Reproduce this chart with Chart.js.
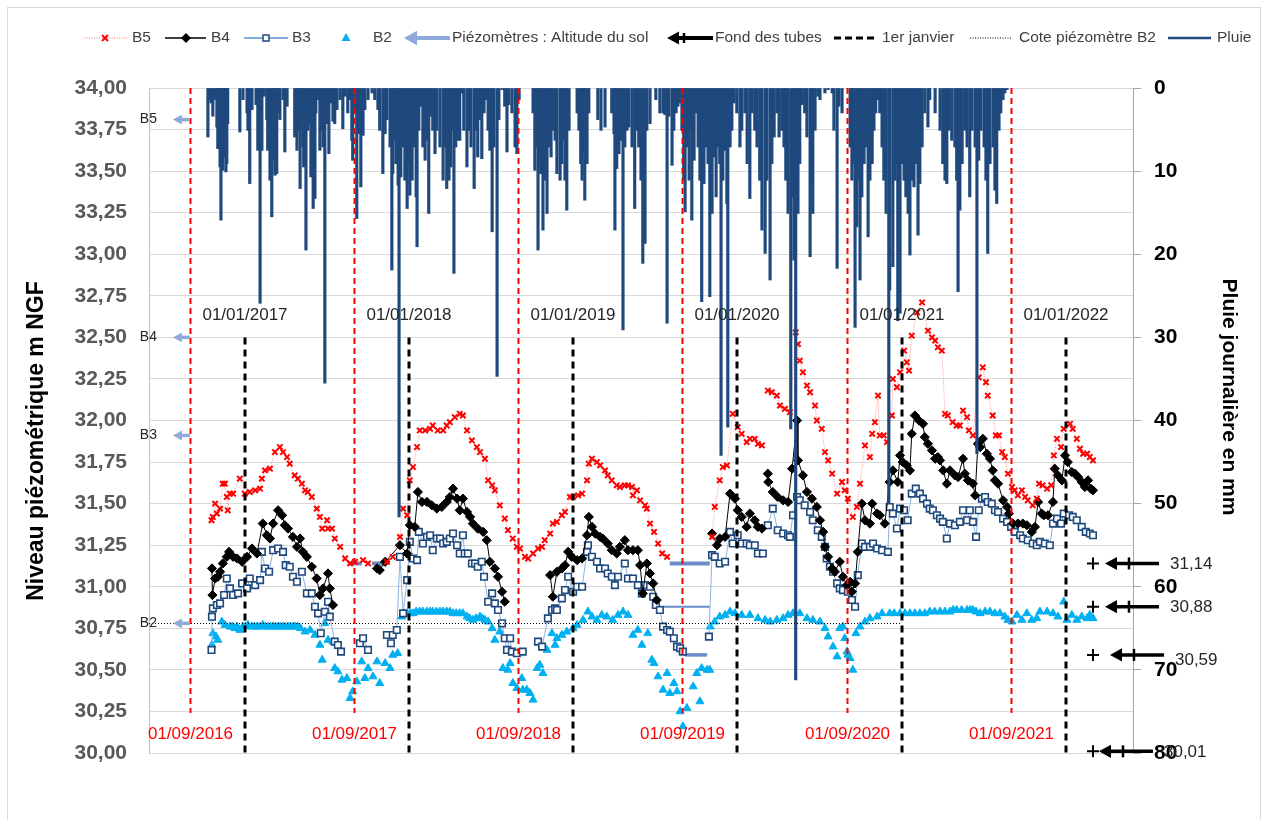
<!DOCTYPE html>
<html>
<head>
<meta charset="utf-8">
<script src="https://cdn.jsdelivr.net/npm/chart.js@4/dist/chart.umd.min.js"></script>
<style>
  html, body { margin: 0; padding: 0; background: #ffffff; }
  canvas { display: block; }
</style>
</head>
<body>
<canvas id="graphe" width="1264" height="820" style="width:1264px;height:820px"></canvas>
<script>
// Axe x : jours depuis le 01/09/2016
const rentrees = [0, 365, 730, 1095, 1461, 1826];
const rentreesTextes = ['01/09/2016', '01/09/2017', '01/09/2018', '01/09/2019', '01/09/2020', '01/09/2021'];
const janviers = [122, 487, 852, 1217, 1583, 1948];
const janviersTextes = ['01/01/2017', '01/01/2018', '01/01/2019', '01/01/2020', '01/01/2021', '01/01/2022'];

const b5Jours = [48, 51, 56, 60, 67, 73, 78, 82, 84, 89, 96, 111, 122, 133, 145, 156, 160, 167, 178, 189, 200, 207, 216, 222, 233, 240, 249, 256, 262, 271, 282, 289, 294, 305, 307, 316, 322, 334, 345, 356, 367, 385, 396, 438, 451, 467, 474, 483, 489, 496, 505, 511, 523, 534, 540, 551, 563, 571, 578, 589, 600, 607, 616, 627, 638, 645, 656, 663, 672, 678, 689, 700, 707, 718, 727, 734, 745, 752, 763, 774, 783, 789, 801, 807, 816, 827, 834, 845, 852, 863, 872, 883, 887, 894, 905, 912, 923, 929, 938, 949, 956, 967, 974, 983, 985, 994, 1001, 1012, 1016, 1023, 1032, 1041, 1050, 1061, 1100, 1161, 1167, 1178, 1185, 1194, 1207, 1218, 1227, 1238, 1245, 1256, 1263, 1272, 1278, 1285, 1294, 1305, 1312, 1323, 1334, 1347, 1352, 1356, 1363, 1372, 1379, 1390, 1394, 1405, 1412, 1419, 1428, 1439, 1450, 1456, 1463, 1474, 1483, 1490, 1501, 1512, 1517, 1523, 1530, 1534, 1543, 1550, 1561, 1563, 1572, 1579, 1588, 1594, 1599, 1605, 1617, 1628, 1641, 1650, 1657, 1663, 1672, 1679, 1685, 1696, 1705, 1712, 1719, 1728, 1732, 1741, 1754, 1763, 1770, 1774, 1785, 1792, 1799, 1806, 1812, 1819, 1828, 1834, 1841, 1850, 1857, 1863, 1874, 1883, 1888, 1896, 1906, 1915, 1921, 1928, 1937, 1943, 1957, 1963, 1972, 1979, 1986, 1995, 2001, 2008];
const b5Niveaux = [31.40, 31.42, 31.50, 31.44, 31.47, 31.62, 31.62, 31.54, 31.46, 31.56, 31.56, 31.65, 31.56, 31.57, 31.58, 31.59, 31.65, 31.70, 31.71, 31.81, 31.84, 31.81, 31.78, 31.74, 31.67, 31.65, 31.62, 31.58, 31.57, 31.54, 31.47, 31.42, 31.35, 31.40, 31.35, 31.35, 31.29, 31.24, 31.17, 31.14, 31.15, 31.16, 31.14, 31.15, 31.18, 31.30, 31.47, 31.43, 31.64, 31.72, 31.84, 31.94, 31.94, 31.95, 31.97, 31.94, 31.94, 31.97, 31.99, 32.02, 32.04, 32.03, 31.94, 31.88, 31.84, 31.81, 31.77, 31.64, 31.61, 31.58, 31.49, 31.41, 31.34, 31.29, 31.24, 31.23, 31.18, 31.17, 31.20, 31.23, 31.24, 31.28, 31.32, 31.38, 31.39, 31.43, 31.45, 31.54, 31.54, 31.55, 31.56, 31.64, 31.74, 31.77, 31.75, 31.73, 31.70, 31.67, 31.64, 31.61, 31.60, 31.61, 31.61, 31.60, 31.55, 31.58, 31.52, 31.49, 31.47, 31.38, 31.33, 31.26, 31.20, 31.18, null, 31.30, 31.48, 31.64, 31.72, 31.73, 32.04, 31.96, 31.92, 31.87, 31.89, 31.89, 31.86, 31.85, null, 32.18, 32.17, 32.15, 32.09, 32.07, 32.05, 32.53, 32.46, 32.36, 32.29, 32.21, 32.17, 32.09, 32.00, 31.95, 31.81, 31.76, 31.68, 31.56, 31.63, 31.58, 31.53, 31.42, 31.48, 31.62, 31.85, 31.78, 31.92, 31.99, 32.15, 31.91, 31.91, 31.87, 32.03, 32.25, 32.20, 32.29, 32.42, 32.35, 32.30, 32.51, 32.65, 32.71, 32.54, 32.50, 32.48, 32.44, 32.42, 32.04, 32.03, 31.99, 31.97, 31.97, 32.06, 32.02, 31.94, 31.91, 32.26, 32.32, 32.23, 32.15, 32.03, 31.91, 31.91, 31.81, 31.78, 31.68, 31.60, 31.58, 31.55, 31.58, 31.54, 31.52, 31.49, 31.53, 31.62, 31.61, 31.59, 31.61, 31.79, 31.89, 31.84, 31.95, 31.98, 31.95, 31.89, 31.83, 31.80, 31.80, 31.78, 31.76];

const b4Jours = [49, 50, 56, 62, 67, 73, 82, 87, 96, 105, 116, 127, 138, 149, 162, 171, 178, 185, 196, 205, 211, 218, 229, 238, 245, 251, 260, 271, 282, 289, 296, 307, 311, 318, 360, 416, 422, 434, 467, 483, 489, 500, 507, 516, 527, 538, 549, 560, 571, 578, 585, 594, 600, 607, 616, 623, 629, 640, 652, 660, 667, 678, 685, 694, 700, 750, 801, 807, 816, 827, 834, 841, 849, 861, 872, 883, 887, 894, 901, 912, 918, 929, 938, 949, 956, 967, 974, 985, 996, 1001, 1007, 1016, 1023, 1030, 1038, 1100, 1161, 1172, 1178, 1190, 1201, 1212, 1218, 1227, 1238, 1245, 1256, 1263, 1272, 1278, 1285, 1286, 1296, 1307, 1319, 1330, 1339, 1350, 1352, 1363, 1372, 1383, 1394, 1401, 1408, 1412, 1419, 1428, 1434, 1445, 1452, 1461, 1468, 1472, 1479, 1485, 1494, 1501, 1512, 1517, 1528, 1534, 1545, 1556, 1563, 1574, 1579, 1585, 1594, 1601, 1605, 1612, 1621, 1630, 1634, 1641, 1650, 1657, 1663, 1668, 1675, 1683, 1690, 1701, 1708, 1719, 1723, 1730, 1741, 1746, 1752, 1757, 1763, 1772, 1779, 1785, 1790, 1797, 1808, 1817, 1821, 1830, 1841, 1852, 1861, 1872, 1879, 1886, 1894, 1899, 1908, 1919, 1923, 1930, 1939, 1946, 1952, 1961, 1968, 1975, 1983, 1990, 1997, 2003, 2008];
const b4Niveaux = [31.11, 30.95, 31.05, 31.06, 31.09, 31.14, 31.18, 31.21, 31.18, 31.17, 31.15, 31.18, 31.23, 31.20, 31.38, 31.31, 31.29, 31.38, 31.46, 31.43, 31.37, 31.35, 31.30, 31.24, 31.29, 31.21, 31.18, 31.12, 31.05, 30.95, 30.99, 31.08, 30.99, 30.89, null, 31.11, 31.10, 31.15, 31.25, 31.20, 31.37, 31.36, 31.57, 31.51, 31.51, 31.49, 31.47, 31.48, 31.51, 31.54, 31.59, 31.53, 31.46, 31.53, 31.45, 31.42, 31.38, 31.35, 31.33, 31.28, 31.15, 31.11, 31.06, 30.97, 30.91, null, 31.07, 30.94, 31.09, 31.11, 31.13, 31.21, 31.18, 31.16, 31.17, 31.31, 31.42, 31.36, 31.32, 31.30, 31.29, 31.26, 31.22, 31.20, 31.24, 31.28, 31.22, 31.22, 31.22, 31.13, 30.96, 31.14, 31.08, 31.02, 30.92, null, 31.32, 31.25, 31.29, 31.30, 31.56, 31.53, 31.46, 31.42, 31.36, 31.44, 31.40, 31.36, 31.35, null, 31.68, 31.63, 31.57, 31.54, 31.52, 31.51, 31.71, 32.00, 31.76, 31.67, 31.57, 31.53, 31.48, 31.40, 31.33, 31.24, 31.18, 31.11, 31.09, 31.15, 31.06, 31.01, 31.03, 30.97, 31.02, 31.21, 31.50, 31.40, 31.38, 31.50, 31.44, 31.43, 31.38, 31.63, 31.70, 31.63, 31.79, 31.75, 31.73, 31.70, 31.92, 32.03, 32.00, 31.98, 31.90, 31.86, 31.82, 31.77, 31.78, 31.76, 31.70, 31.62, 31.70, 31.67, 31.66, 31.77, 31.68, 31.64, 31.62, 31.55, 31.86, 31.84, 31.89, 31.80, 31.77, 31.70, 31.64, 31.62, 31.52, 31.48, 31.44, 31.38, 31.38, 31.38, 31.37, 31.33, 31.36, 31.51, 31.44, 31.43, 31.43, 31.51, 31.71, 31.67, 31.64, 31.79, 31.75, 31.69, 31.68, 31.66, 31.63, 31.60, 31.64, 31.59, 31.58];

const b3Jours = [48, 49, 51, 60, 67, 76, 82, 89, 96, 107, 116, 127, 133, 145, 156, 160, 167, 176, 185, 196, 207, 213, 222, 229, 238, 249, 260, 271, 278, 285, 291, 300, 307, 311, 322, 329, 336, 355, 378, 385, 396, 420, 438, 447, 451, 460, 467, 474, 483, 489, 496, 505, 509, 518, 527, 534, 540, 549, 556, 563, 571, 578, 585, 594, 600, 607, 611, 618, 627, 634, 640, 649, 654, 663, 672, 678, 685, 694, 700, 705, 712, 716, 727, 740, 757, 774, 783, 796, 805, 812, 816, 827, 834, 841, 852, 861, 872, 883, 885, 894, 905, 912, 923, 929, 938, 945, 952, 967, 974, 985, 996, 1005, 1012, 1023, 1030, 1036, 1045, 1052, 1061, 1067, 1076, 1083, 1090, 1096, 1125, 1154, 1161, 1167, 1178, 1190, 1201, 1207, 1218, 1227, 1238, 1245, 1256, 1263, 1274, 1280, 1285, 1296, 1307, 1319, 1330, 1334, 1341, 1350, 1356, 1367, 1379, 1385, 1396, 1405, 1412, 1416, 1423, 1430, 1439, 1445, 1452, 1463, 1472, 1479, 1485, 1494, 1501, 1512, 1519, 1528, 1539, 1552, 1556, 1563, 1572, 1579, 1588, 1596, 1605, 1614, 1623, 1630, 1639, 1645, 1652, 1661, 1668, 1674, 1683, 1690, 1701, 1712, 1719, 1728, 1734, 1741, 1748, 1754, 1761, 1768, 1774, 1783, 1790, 1797, 1808, 1817, 1826, 1834, 1846, 1852, 1863, 1874, 1883, 1890, 1901, 1912, 1919, 1928, 1937, 1943, 1955, 1963, 1972, 1983, 1992, 2001, 2008];
const b3Niveaux = [30.62, 30.82, 30.87, 30.89, 30.90, 30.95, 31.05, 30.99, 30.95, 30.96, 31.02, 30.99, 31.05, 31.01, 31.04, 31.21, 31.11, 31.09, 31.22, 31.23, 31.21, 31.13, 31.12, 31.06, 31.03, 31.09, 30.96, 30.96, 30.88, 30.84, 30.72, 30.85, 30.91, 30.82, 30.67, 30.65, 30.61, null, 30.66, 30.69, 30.62, null, 30.71, 30.66, 30.71, 30.74, 31.18, 30.84, 31.04, 31.27, 31.17, 31.16, 31.33, 31.26, 31.30, 31.31, 31.22, 31.29, 31.29, 31.26, 31.27, 31.29, 31.32, 31.25, 31.20, 31.31, 31.20, 31.20, 31.14, 31.14, 31.12, 31.15, 31.06, 30.91, 30.96, 30.90, 30.86, 30.78, 30.69, 30.62, 30.69, 30.61, 30.60, 30.61, null, 30.67, 30.64, 30.81, 30.86, 30.87, 30.86, 30.93, 30.98, 31.06, 30.97, 31.00, 31.00, 31.21, 31.25, 31.18, 31.15, 31.11, 31.11, 31.08, 31.06, 31.01, 31.06, 31.14, 31.05, 31.05, 31.01, 30.96, 31.01, 31.00, 30.94, 30.89, 30.86, 30.76, 30.74, 30.73, 30.69, 30.64, 30.63, 30.61, null, 30.70, 31.19, 31.18, 31.14, 31.15, 31.33, 31.26, 31.31, 31.26, 31.26, 31.25, 31.25, 31.20, 31.20, null, 31.37, 31.47, 31.34, 31.32, 31.31, 31.30, 31.43, 31.54, 31.52, 31.49, 31.45, 31.40, 31.34, 31.30, 31.24, 31.17, 31.12, 31.09, 31.02, 30.99, 30.98, 30.97, 30.92, 30.88, 31.07, 31.26, 31.24, 31.24, 31.26, 31.23, 31.22, 31.21, 31.48, 31.44, 31.35, 31.47, 31.46, 31.40, 31.56, 31.59, 31.56, 31.53, 31.50, 31.47, 31.46, 31.43, 31.41, 31.39, 31.29, 31.38, 31.37, 31.39, 31.46, 31.40, 31.46, 31.39, 31.30, 31.46, 31.53, 31.54, 31.51, 31.50, 31.46, 31.45, 31.41, 31.39, 31.36, 31.33, 31.31, 31.29, 31.28, 31.26, 31.25, 31.27, 31.26, 31.25, 31.38, 31.41, 31.38, 31.44, 31.43, 31.42, 31.40, 31.36, 31.33, 31.32, 31.31];

const b2Jours = [49, 51, 58, 62, 71, 78, 89, 94, 100, 105, 111, 118, 123, 129, 138, 143, 149, 155, 162, 167, 173, 179, 185, 190, 196, 201, 207, 212, 218, 223, 229, 234, 240, 246, 256, 267, 278, 289, 294, 300, 307, 318, 322, 329, 338, 349, 356, 362, 371, 382, 389, 396, 407, 416, 422, 434, 445, 451, 462, 471, 476, 483, 490, 496, 503, 511, 518, 527, 534, 540, 548, 556, 563, 571, 578, 585, 592, 600, 607, 616, 622, 629, 636, 645, 650, 656, 663, 672, 678, 689, 696, 707, 712, 718, 727, 738, 740, 749, 756, 763, 772, 778, 785, 794, 805, 812, 816, 827, 838, 852, 861, 874, 885, 894, 905, 916, 927, 940, 952, 963, 974, 985, 996, 1005, 1018, 1027, 1032, 1041, 1052, 1061, 1067, 1076, 1083, 1090, 1096, 1105, 1119, 1127, 1134, 1138, 1150, 1156, 1157, 1167, 1178, 1190, 1201, 1212, 1227, 1245, 1263, 1279, 1290, 1305, 1319, 1330, 1341, 1356, 1372, 1385, 1401, 1412, 1419, 1430, 1439, 1445, 1452, 1456, 1461, 1463, 1468, 1474, 1481, 1490, 1501, 1512, 1528, 1539, 1556, 1566, 1579, 1590, 1601, 1612, 1623, 1634, 1645, 1656, 1668, 1679, 1690, 1697, 1705, 1716, 1728, 1735, 1741, 1748, 1757, 1768, 1779, 1790, 1801, 1812, 1819, 1828, 1839, 1850, 1861, 1872, 1883, 1890, 1906, 1919, 1930, 1943, 1950, 1961, 1972, 1983, 1995, 2001, 2008];
const b2Niveaux = [30.65, 30.72, 30.70, 30.68, 30.79, 30.77, 30.76, 30.76, 30.75, 30.76, 30.74, 30.76, 30.76, 30.77, 30.76, 30.76, 30.76, 30.76, 30.77, 30.76, 30.76, 30.76, 30.76, 30.76, 30.76, 30.76, 30.76, 30.76, 30.76, 30.76, 30.76, 30.76, 30.76, 30.75, 30.73, 30.74, 30.71, 30.65, 30.56, 30.78, 30.68, 30.67, 30.51, 30.49, 30.44, 30.45, 30.33, 30.37, 30.43, 30.55, 30.45, 30.51, 30.46, 30.55, 30.42, 30.54, 30.51, 30.59, 30.60, 30.82, 30.84, 30.84, 30.84, 30.84, 30.85, 30.85, 30.85, 30.85, 30.85, 30.85, 30.85, 30.85, 30.85, 30.85, 30.85, 30.84, 30.84, 30.84, 30.84, 30.82, 30.81, 30.80, 30.81, 30.82, 30.81, 30.80, 30.79, 30.75, 30.68, 30.73, 30.51, 30.50, 30.54, 30.42, 30.39, 30.45, 30.38, 30.38, 30.36, 30.32, 30.51, 30.53, 30.48, 30.62, 30.72, 30.65, 30.69, 30.71, 30.73, 30.75, 30.77, 30.80, 30.85, 30.82, 30.80, 30.83, 30.82, 30.80, 30.83, 30.85, 30.83, 30.71, 30.74, 30.65, 30.72, 30.56, 30.54, 30.46, 30.38, 30.48, 30.36, 30.42, 30.37, 30.25, 30.16, 30.27, 30.40, 30.48, 30.31, 30.51, 30.50, 30.50, 30.76, 30.79, 30.82, 30.83, 30.85, 30.84, 30.83, 30.83, 30.81, 30.80, 30.79, 30.80, 30.81, 30.83, 30.84, 30.84, 30.81, 30.80, 30.79, 30.75, 30.70, 30.64, 30.58, 30.75, 30.76, 30.69, 30.61, 30.59, 30.57, 30.50, 30.72, 30.76, 30.79, 30.81, 30.82, 30.84, 30.84, 30.84, 30.84, 30.84, 30.84, 30.84, 30.84, 30.84, 30.85, 30.85, 30.85, 30.85, 30.85, 30.86, 30.86, 30.86, 30.86, 30.86, 30.86, 30.85, 30.84, 30.85, 30.85, 30.84, 30.84, 30.82, 30.80, 30.79, 30.83, 30.80, 30.84, 30.80, 30.81, 30.85, 30.85, 30.84, 30.82, 30.91, 30.80, 30.83, 30.80, 30.82, 30.81, 30.83, 30.81];

// Périodes où le niveau est au fond du tube (piézomètre sec)
const secB5Jours = [351, 382, null, 405, 433, null, 1067, 1156];
const secB5Niveaux = [31.14, 31.14, null, 31.14, 31.14, null, 31.14, 31.14];
const secB4Jours = [1041, 1156];
const secB4Niveaux = [30.88, 30.88];
const secB3Jours = [1101, 1150];
const secB3Niveaux = [30.59, 30.59];

// Altitude du sol et fond des tubes
const piezoNoms = ['B5', 'B4', 'B3', 'B2'];
const piezoSol = [33.81, 32.50, 31.91, 30.78];
const fondTubes = [31.14, 30.88, 30.59, 30.01];
const fondJour = 2008;
const coteB2 = 30.78;

// Pluie journalière (mm)
const pluieJours = [40, 42, 47, 51, 56, 60, 62, 67, 69, 71, 73, 76, 78, 80, 82, 84, 111, 118, 127, 129, 133, 138, 147, 151, 156, 158, 160, 165, 171, 173, 178, 182, 185, 189, 191, 193, 198, 200, 207, 211, 216, 233, 238, 240, 245, 249, 251, 253, 258, 262, 267, 269, 274, 278, 280, 285, 289, 294, 296, 300, 305, 309, 314, 318, 322, 327, 334, 340, 345, 351, 356, 360, 362, 367, 371, 376, 380, 385, 389, 396, 405, 411, 418, 422, 429, 434, 438, 445, 449, 451, 456, 458, 463, 465, 469, 474, 478, 483, 487, 489, 494, 498, 503, 505, 509, 514, 518, 523, 527, 531, 536, 540, 545, 549, 556, 563, 567, 571, 576, 580, 585, 587, 591, 596, 600, 605, 609, 616, 620, 625, 632, 636, 640, 645, 649, 654, 658, 663, 667, 672, 676, 683, 687, 694, 700, 705, 709, 716, 723, 727, 732, 763, 767, 772, 774, 778, 780, 785, 789, 794, 798, 803, 807, 812, 816, 823, 827, 829, 834, 838, 843, 861, 865, 869, 872, 876, 878, 883, 887, 907, 914, 923, 938, 943, 945, 949, 954, 958, 963, 967, 972, 976, 983, 989, 994, 998, 1003, 1007, 1012, 1016, 1023, 1036, 1045, 1052, 1056, 1061, 1065, 1072, 1076, 1081, 1085, 1090, 1094, 1098, 1101, 1105, 1110, 1114, 1116, 1121, 1125, 1130, 1134, 1138, 1143, 1147, 1152, 1156, 1161, 1165, 1170, 1174, 1178, 1181, 1185, 1190, 1194, 1196, 1201, 1205, 1210, 1216, 1223, 1227, 1234, 1239, 1245, 1250, 1256, 1261, 1267, 1272, 1279, 1283, 1290, 1294, 1299, 1305, 1310, 1316, 1321, 1325, 1330, 1336, 1341, 1343, 1347, 1352, 1356, 1361, 1367, 1372, 1379, 1383, 1385, 1390, 1396, 1401, 1412, 1419, 1428, 1432, 1439, 1443, 1450, 1468, 1472, 1474, 1479, 1483, 1488, 1490, 1494, 1499, 1503, 1508, 1512, 1517, 1521, 1525, 1530, 1534, 1539, 1543, 1548, 1554, 1556, 1563, 1568, 1572, 1574, 1579, 1583, 1588, 1592, 1597, 1601, 1605, 1610, 1614, 1619, 1623, 1628, 1634, 1641, 1645, 1657, 1668, 1674, 1679, 1683, 1688, 1694, 1701, 1705, 1708, 1712, 1717, 1723, 1728, 1734, 1739, 1746, 1750, 1754, 1759, 1766, 1770, 1774, 1779, 1786, 1790, 1794, 1799, 1803, 1808, 1812, 1817];
const pluieMm = [5.9, 1.4, 1.8, 3.4, 1.4, 4.7, 7.3, 9.5, 15.9, 8.7, 9.9, 5.5, 8.3, 10.1, 9.1, 4.3, 5.3, 1.4, 3.0, 5.1, 11.5, 2.6, 2.0, 7.5, 25.9, 3.0, 7.5, 1.0, 3.8, 7.5, 11.1, 15.5, 8.7, 10.5, 7.1, 10.3, 3.0, 3.8, 1.4, 7.7, 2.2, 5.9, 7.5, 5.1, 12.1, 4.3, 7.1, 9.5, 19.5, 5.1, 4.3, 10.7, 14.5, 13.3, 3.0, 1.4, 7.5, 5.1, 7.1, 35.5, 4.3, 7.9, 1.8, 4.0, 4.3, 2.6, 1.4, 4.9, 1.0, 3.0, 1.4, 6.3, 8.7, 3.0, 15.7, 5.5, 11.9, 5.7, 2.6, 1.4, 0.6, 1.4, 2.6, 5.1, 10.3, 5.5, 3.8, 7.1, 21.9, 10.3, 6.3, 9.1, 11.7, 51.6, 10.7, 7.1, 11.1, 14.5, 9.1, 12.9, 11.1, 7.1, 13.1, 19.1, 5.1, 2.2, 7.1, 8.7, 6.3, 15.1, 3.4, 5.1, 7.9, 5.1, 7.1, 11.1, 7.1, 12.1, 11.1, 9.5, 5.1, 22.3, 7.1, 6.3, 6.3, 0.6, 5.1, 9.5, 5.1, 7.1, 12.1, 5.1, 8.3, 3.8, 8.5, 3.0, 1.4, 5.1, 7.5, 17.3, 7.1, 34.7, 3.8, 0.2, 2.2, 7.7, 2.0, 3.0, 7.1, 7.9, 1.4, 3.0, 9.9, 7.1, 19.5, 9.1, 10.3, 17.1, 11.1, 15.1, 7.1, 8.3, 5.1, 6.3, 10.3, 11.1, 9.1, 6.3, 11.1, 14.7, 5.1, 3.0, 5.1, 9.1, 11.1, 7.9, 13.5, 9.1, 3.0, 3.8, 5.1, 4.7, 3.0, 5.5, 17.1, 9.7, 7.9, 6.3, 29.1, 7.1, 5.1, 4.7, 7.1, 14.5, 5.1, 7.1, 11.1, 21.1, 18.7, 5.1, 4.3, 1.4, 3.0, 3.0, 3.2, 28.3, 3.4, 9.3, 5.1, 3.0, 2.2, 1.8, 5.1, 11.1, 14.9, 7.1, 11.1, 5.1, 15.9, 8.7, 3.0, 7.1, 11.1, 25.7, 11.5, 7.1, 9.1, 25.1, 15.1, 8.3, 13.1, 7.1, 9.1, 44.2, 11.1, 7.5, 13.9, 40.8, 7.1, 5.1, 1.8, 3.0, 7.1, 5.1, 3.0, 9.1, 13.3, 3.0, 5.1, 7.1, 11.1, 17.1, 19.9, 11.1, 23.1, 9.1, 5.9, 3.0, 5.9, 5.1, 7.1, 11.1, 15.1, 41.0, 13.1, 20.7, 71.2, 15.1, 9.1, 2.0, 3.0, 5.9, 20.3, 11.1, 15.1, 5.1, 1.0, 1.4, 0.6, 0.2, 0.6, 5.1, 21.7, 2.2, 3.0, 7.1, 11.1, 9.1, 28.8, 16.7, 11.1, 23.1, 13.1, 9.1, 7.1, 17.9, 11.1, 9.1, 5.1, 3.0, 1.4, 3.0, 7.1, 11.1, 15.1, 50.0, 24.3, 21.5, 11.1, 9.1, 28.0, 27.1, 9.1, 11.1, 13.1, 15.1, 20.1, 11.1, 11.9, 9.1, 17.7, 11.5, 7.1, 3.0, 4.7, 1.4, 3.0, 5.1, 9.1, 11.1, 11.5, 5.1, 6.3, 7.1, 11.1, 24.5, 14.7, 9.1, 5.1, 7.1, 13.1, 5.1, 7.1, 44.0, 8.7, 5.1, 7.1, 11.1, 19.9, 9.1, 7.1, 12.3, 13.9, 5.1, 3.0, 1.4, 0.6, 0.2];

const POLICE = '"Liberation Sans", Arial, sans-serif';
const ROUGE = '#ff0000';
const BLEU_PLUIE = '#1f497d';
const BLEU_SOL = '#8eaadb';
const BLEU_SEC = '#6a8dc9';

function serie(jours, valeurs) {
    return jours.map((j, i) => ({ x: j, y: valeurs[i] }));
}
function virgule(v) {
    return v.toFixed(2).replace('.', ',');
}

// flèche horizontale pointant vers la gauche
function fleche(ctx, xPointe, xQueue, y, couleur, epaisseur, tete) {
    ctx.strokeStyle = couleur;
    ctx.fillStyle = couleur;
    ctx.lineWidth = epaisseur;
    ctx.setLineDash([]);
    ctx.beginPath();
    ctx.moveTo(xPointe + tete * 0.8, y);
    ctx.lineTo(xQueue, y);
    ctx.stroke();
    ctx.beginPath();
    ctx.moveTo(xPointe, y);
    ctx.lineTo(xPointe + tete, y - tete * 0.55);
    ctx.lineTo(xPointe + tete, y + tete * 0.55);
    ctx.closePath();
    ctx.fill();
}
function croix(ctx, x, y, r, couleur, ep) {
    ctx.strokeStyle = couleur;
    ctx.lineWidth = ep;
    ctx.setLineDash([]);
    ctx.beginPath();
    ctx.moveTo(x - r, y); ctx.lineTo(x + r, y);
    ctx.moveTo(x, y - r); ctx.lineTo(x, y + r);
    ctx.stroke();
}

// Annotations : repères de dates, altitudes du sol, fonds des tubes, titres d'axes
const annotations = {
    id: 'annotations',
    afterDatasetsDraw(chart) {
        const ctx = chart.ctx;
        const sx = chart.scales.x;
        const sy = chart.scales.y;
        ctx.save();

        // 1er septembre (rouge) et 1er janvier (noir)
        ctx.font = '17px ' + POLICE;
        ctx.textAlign = 'center';
        ctx.textBaseline = 'middle';
        rentrees.forEach((j, i) => {
            const x = Math.round(sx.getPixelForValue(j)) + 0.5;
            ctx.strokeStyle = ROUGE;
            ctx.lineWidth = 2;
            ctx.setLineDash([6, 4]);
            ctx.beginPath();
            ctx.moveTo(x, sy.getPixelForValue(34));
            ctx.lineTo(x, sy.getPixelForValue(30.24));
            ctx.stroke();
            ctx.fillStyle = ROUGE;
            ctx.fillText(rentreesTextes[i], x, sy.getPixelForValue(30.11));
        });
        janviers.forEach((j, i) => {
            const x = Math.round(sx.getPixelForValue(j));
            ctx.strokeStyle = '#000000';
            ctx.lineWidth = 3;
            ctx.setLineDash([7, 5]);
            ctx.beginPath();
            ctx.moveTo(x, sy.getPixelForValue(32.5));
            ctx.lineTo(x, sy.getPixelForValue(30));
            ctx.stroke();
            ctx.fillStyle = '#262626';
            ctx.fillText(janviersTextes[i], x, sy.getPixelForValue(32.63));
        });

        // cote du piézomètre B2
        ctx.strokeStyle = '#000000';
        ctx.lineWidth = 1;
        ctx.setLineDash([1, 2]);
        const yB2 = Math.round(sy.getPixelForValue(coteB2)) + 0.5;
        ctx.beginPath();
        ctx.moveTo(sx.left, yB2);
        ctx.lineTo(sx.getPixelForValue(janviers[4]), yB2);
        ctx.stroke();

        // altitudes du sol
        ctx.font = '14px ' + POLICE;
        ctx.textAlign = 'right';
        piezoSol.forEach((v, i) => {
            const y = sy.getPixelForValue(v);
            const x0 = sx.getPixelForValue(rentrees[0]);
            fleche(ctx, x0 - 17, x0, y, BLEU_SOL, 3.5, 9);
            ctx.fillStyle = '#262626';
            ctx.fillText(piezoNoms[i], x0 - 33, y);
        });

        // fonds des tubes
        const decal = [0, 0, 5, -6];
        ctx.font = '17px ' + POLICE;
        ctx.textAlign = 'left';
        fondTubes.forEach((v, i) => {
            const y = sy.getPixelForValue(v);
            const x0 = sx.getPixelForValue(fondJour);
            croix(ctx, x0, y, 6, '#000000', 2);
            const xa = x0 + 12 + decal[i];
            fleche(ctx, xa, xa + 54, y, '#000000', 3.5, 12);
            ctx.lineWidth = 2.5;
            ctx.beginPath();
            ctx.moveTo(xa + 24, y - 6);
            ctx.lineTo(xa + 24, y + 6);
            ctx.stroke();
            ctx.fillStyle = '#262626';
            ctx.fillText(virgule(v), xa + 65, y + (i === 2 ? 5 : 1));
        });

        // titres des axes
        ctx.fillStyle = '#000000';
        ctx.font = 'bold 23px ' + POLICE;
        ctx.textAlign = 'center';
        ctx.save();
        ctx.translate(37, 441);
        ctx.rotate(-Math.PI / 2);
        ctx.fillText('Niveau piézométrique m NGF', 0, 0);
        ctx.restore();
        ctx.font = 'bold 21px ' + POLICE;
        ctx.save();
        ctx.translate(1229, 397);
        ctx.rotate(Math.PI / 2);
        ctx.fillText('Pluie journalière en mm', 0, 0);
        ctx.restore();

        ctx.restore();
    }
};

// Légende dessinée à la manière d'Excel, sur une ligne
const legende = {
    id: 'legende',
    afterDraw(chart) {
        const ctx = chart.ctx;
        const y = 38;
        ctx.save();
        // cadre du graphique
        ctx.strokeStyle = '#d9d9d9';
        ctx.lineWidth = 1;
        ctx.strokeRect(7.5, 7.5, 1253, 830);

        ctx.font = '15.5px ' + POLICE;
        ctx.textBaseline = 'middle';
        ctx.textAlign = 'left';
        const texte = (t, x) => { ctx.fillStyle = '#404040'; ctx.fillText(t, x, y); };

        // B5
        ctx.strokeStyle = 'rgba(255,0,0,0.55)'; ctx.lineWidth = 1; ctx.setLineDash([1, 1.5]);
        ctx.beginPath(); ctx.moveTo(84, y); ctx.lineTo(127, y); ctx.stroke();
        ctx.setLineDash([]); ctx.strokeStyle = ROUGE; ctx.lineWidth = 2;
        ctx.beginPath(); ctx.moveTo(102, y - 3); ctx.lineTo(108, y + 3); ctx.moveTo(108, y - 3); ctx.lineTo(102, y + 3); ctx.stroke();
        texte('B5', 132);
        // B4
        ctx.strokeStyle = '#000'; ctx.lineWidth = 1.5;
        ctx.beginPath(); ctx.moveTo(165, y); ctx.lineTo(206, y); ctx.stroke();
        ctx.fillStyle = '#000';
        ctx.beginPath(); ctx.moveTo(186, y - 5); ctx.lineTo(191, y); ctx.lineTo(186, y + 5); ctx.lineTo(181, y); ctx.closePath(); ctx.fill();
        texte('B4', 211);
        // B3
        ctx.strokeStyle = '#5b8fd6'; ctx.lineWidth = 1.5;
        ctx.beginPath(); ctx.moveTo(244, y); ctx.lineTo(288, y); ctx.stroke();
        ctx.fillStyle = '#fff'; ctx.fillRect(263, y - 3, 6, 6);
        ctx.strokeStyle = BLEU_PLUIE; ctx.lineWidth = 1.5; ctx.strokeRect(263, y - 3, 6, 6);
        texte('B3', 292);
        // B2
        ctx.fillStyle = '#00b0f0';
        ctx.beginPath(); ctx.moveTo(346, y - 5); ctx.lineTo(350.5, y + 3); ctx.lineTo(341.5, y + 3); ctx.closePath(); ctx.fill();
        texte('B2', 373);
        // Piézomètres : altitude du sol
        fleche(ctx, 404, 450, y, BLEU_SOL, 4, 13);
        texte('Piézomètres : Altitude du sol', 452);
        // Fond des tubes
        fleche(ctx, 667, 713, y, '#000', 4, 12);
        ctx.strokeStyle = '#000'; ctx.lineWidth = 2.5;
        ctx.beginPath(); ctx.moveTo(684, y - 5); ctx.lineTo(684, y + 5); ctx.stroke();
        texte('Fond des tubes', 715);
        // 1er janvier
        ctx.strokeStyle = '#000'; ctx.lineWidth = 3; ctx.setLineDash([7, 4]);
        ctx.beginPath(); ctx.moveTo(834, y); ctx.lineTo(877, y); ctx.stroke();
        texte('1er janvier', 882);
        // Cote piézomètre B2
        ctx.strokeStyle = '#000'; ctx.lineWidth = 1; ctx.setLineDash([1, 1.5]);
        ctx.beginPath(); ctx.moveTo(970, y); ctx.lineTo(1011, y); ctx.stroke();
        ctx.setLineDash([]);
        texte('Cote piézomètre B2', 1019);
        // Pluie
        ctx.strokeStyle = BLEU_PLUIE; ctx.lineWidth = 2.5;
        ctx.beginPath(); ctx.moveTo(1168, y); ctx.lineTo(1211, y); ctx.stroke();
        texte('Pluie', 1217);
        ctx.restore();
    }
};

Chart.defaults.font.family = POLICE;

new Chart(document.getElementById('graphe'), {
    type: 'line',
    data: {
        datasets: [
            {
                label: 'Pluie', type: 'bar', yAxisID: 'y2', order: 0,
                data: serie(pluieJours, pluieMm),
                backgroundColor: BLEU_PLUIE, borderWidth: 0,
                barThickness: 2.5, grouped: false
            },
            {
                label: 'B5', order: 1, data: serie(b5Jours, b5Niveaux),
                borderColor: 'rgba(255,0,0,0.45)', borderWidth: 1, borderDash: [1, 1.5],
                pointStyle: 'crossRot', pointRadius: 3.8,
                pointBorderColor: ROUGE, pointBorderWidth: 2, pointBackgroundColor: ROUGE
            },
            {
                label: 'B4', order: 2, data: serie(b4Jours, b4Niveaux),
                borderColor: '#000000', borderWidth: 1,
                pointStyle: 'rectRot', pointRadius: 4.6,
                pointBorderColor: '#000000', pointBackgroundColor: '#000000', pointBorderWidth: 1
            },
            {
                label: 'B3', order: 3, data: serie(b3Jours, b3Niveaux),
                borderColor: '#8db3e2', borderWidth: 1,
                pointStyle: 'rect', pointRadius: 4.6,
                pointBorderColor: '#1f497d', pointBackgroundColor: '#ffffff', pointBorderWidth: 1.6
            },
            {
                label: 'B2', order: 4, data: serie(b2Jours, b2Niveaux), showLine: false,
                pointStyle: 'triangle', pointRadius: 4.6,
                pointBorderColor: '#00b0f0', pointBackgroundColor: '#00b0f0', pointBorderWidth: 1
            },
            {
                label: 'B5 sec', order: 5, data: serie(secB5Jours, secB5Niveaux),
                borderColor: BLEU_SEC, borderWidth: 4, pointRadius: 0
            },
            {
                label: 'B4 sec', order: 5, data: serie(secB4Jours, secB4Niveaux),
                borderColor: BLEU_SEC, borderWidth: 2, pointRadius: 0
            },
            {
                label: 'B3 sec', order: 5, data: serie(secB3Jours, secB3Niveaux),
                borderColor: BLEU_SEC, borderWidth: 3.5, pointRadius: 0
            }
        ]
    },
    options: {
        responsive: false,
        animation: false,
        devicePixelRatio: 1,
        spanGaps: false,
        layout: { padding: { top: 88, bottom: 67, left: 0, right: 0 } },
        elements: { line: { tension: 0 } },
        plugins: {
            legend: { display: false },
            tooltip: { enabled: false },
            title: { display: false }
        },
        scales: {
            x: {
                type: 'linear', min: -91, max: 2097, display: false,
                offset: false, grid: { offset: false }
            },
            y: {
                position: 'left', min: 30, max: 34,
                afterFit(s) { s.width = 149; },
                ticks: {
                    stepSize: 0.25, padding: 22, color: '#595959',
                    font: { size: 21, weight: 'bold' },
                    callback: v => virgule(v)
                },
                grid: { color: '#d9d9d9', lineWidth: 1, drawTicks: false },
                border: { color: '#bfbfbf' }
            },
            y2: {
                position: 'right', min: 0, max: 80, reverse: true,
                afterFit(s) { s.width = 131; },
                ticks: {
                    stepSize: 10, padding: 13, color: '#000000',
                    font: { size: 21, weight: 'bold' }
                },
                grid: { drawOnChartArea: false, drawTicks: true, tickLength: 8, color: '#a6a6a6' },
                border: { color: '#a6a6a6' }
            }
        }
    },
    plugins: [annotations, legende]
});
</script>
</body>
</html>
